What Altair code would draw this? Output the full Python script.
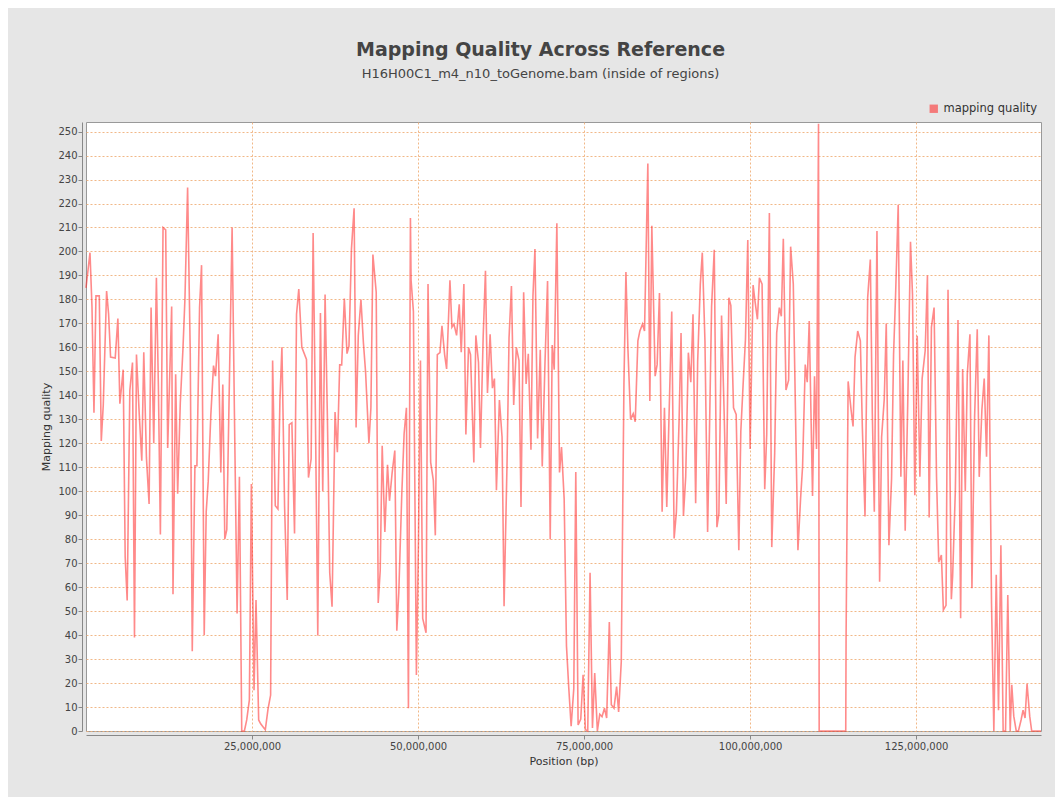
import altair as alt
import pandas as pd

TITLE = "Mapping Quality Across Reference"
SUBTITLE = "H16H00C1_m4_n10_toGenome.bam (inside of regions)"
SERIES = "mapping quality"

# Window positions (Mbp) and mean mapping quality
POS_MB = [
    0.0, 0.6, 0.9, 1.2, 1.5, 2.0, 2.3, 2.6, 3.1, 3.4, 3.7, 4.4, 4.8, 5.1, 5.6, 5.9, 6.2, 6.6, 7.0, 7.3,
    7.6, 8.0, 8.4, 8.7, 9.1, 9.5, 9.8, 10.2, 10.6, 10.9, 11.2, 11.6, 12.0, 12.3, 12.9, 13.1, 13.5, 13.8, 14.2, 14.6,
    14.9, 15.3, 15.7, 16.0, 16.4, 16.7, 17.1, 17.4, 17.8, 18.1, 18.4, 18.8, 19.2, 19.5, 19.9, 20.3, 20.6, 20.9,
    21.2, 21.6, 22.0, 22.35, 22.75, 23.1, 23.45, 23.85, 24.2, 24.6, 24.9, 25.3, 25.6, 26.0, 26.3, 26.7, 27.0, 27.4,
    27.8, 28.1, 28.5, 28.9, 29.2, 29.5, 29.9, 30.3, 30.6, 31.0, 31.4, 31.7, 32.04, 32.5, 33.2, 33.5, 33.9, 34.2,
    34.55, 34.9, 35.3, 35.65, 36.0, 36.35, 36.7, 37.05, 37.5, 37.85, 38.2, 38.5, 38.9, 39.3, 39.6, 39.97, 40.37,
    40.67, 41.0, 41.4,
    41.77, 42.1, 42.6, 42.9, 43.2, 43.7, 44.0, 44.3, 44.6, 45.0, 45.4, 45.7, 46.1, 46.5, 46.8, 47.1, 47.55, 47.9,
    48.25, 48.55, 48.85, 48.95, 49.3, 49.75, 50.06, 50.36, 50.7, 51.2, 51.5, 51.9, 52.3, 52.6, 52.9, 53.3, 53.6,
    54.0, 54.3, 54.8, 55.1, 55.4, 55.8, 56.2, 56.5, 56.9, 57.2, 57.6, 57.9, 58.4, 58.7, 59.1, 59.4, 59.8, 60.15,
    60.45, 60.85, 61.2, 61.5, 61.8,
    62.25, 62.65, 62.95, 63.4, 63.7, 64.06, 64.4, 64.8, 65.2, 65.5, 65.9, 66.27, 66.6, 67.0, 67.3, 67.6, 68.0,
    68.4, 68.7, 69.1, 69.5, 69.9, 70.2, 70.5, 70.9, 71.3, 71.6, 72.0, 72.35, 72.7, 73.05, 73.45, 73.75, 74.1,
    74.5, 74.85, 75.2, 75.55, 75.9, 76.26, 76.6, 77.0, 77.36, 77.7, 78.07, 78.4, 78.8, 79.1, 79.5, 79.9, 80.2,
    80.6, 81.0, 81.3, 81.6, 82.0, 82.4,
    82.7, 83.1, 83.4, 83.8, 84.1, 84.6, 84.9, 85.2, 85.7, 86.0, 86.35, 86.75, 87.1, 87.45, 87.8, 88.2, 88.56,
    88.9, 89.3, 89.6, 89.96, 90.3, 90.7, 91.07, 91.4, 91.8, 92.1, 92.5, 92.8, 93.2, 93.6, 93.9, 94.2, 94.6, 95.0,
    95.3, 95.7, 96.1, 96.4, 96.8, 97.1, 97.5, 97.9, 98.3, 98.6, 98.95, 99.3, 99.65, 100.0, 100.45, 100.75, 101.1,
    101.4, 101.8, 102.2, 102.5, 102.9,
    103.26, 103.7, 104.0, 104.4, 104.7, 105.0, 105.4, 105.8, 106.1, 106.5, 106.9, 107.2, 107.6, 107.9, 108.3,
    108.6, 108.9, 109.4, 109.7, 110.0, 110.3, 110.4, 110.8, 111.2, 111.5, 111.9, 112.2, 112.6, 113.0, 113.3,
    113.7, 114.0, 114.4, 114.45, 114.76, 115.2, 115.5, 115.8, 116.2, 116.6, 116.9, 117.3, 117.7, 118.1, 118.4,
    118.7, 119.1, 119.5, 119.8, 120.2, 120.5, 120.9, 121.3, 121.6, 121.9, 122.3, 122.7, 123.0, 123.35,
    123.75, 124.15, 124.45, 124.8, 125.16, 125.56, 125.9, 126.36, 126.7, 126.96, 127.3, 127.7, 128.07, 128.4,
    128.8, 129.1, 129.5, 129.8, 130.3, 130.5, 130.9, 131.3, 131.7, 132.0, 132.4, 132.7, 133.1, 133.4, 133.8,
    134.2, 134.5, 134.9, 135.25, 135.6, 135.95, 136.35, 136.7, 137.06, 137.4, 137.76, 138.1, 138.46, 138.8,
    139.16, 139.4, 139.7, 140.07, 140.4, 140.8, 141.1, 141.4, 141.7, 142.1, 142.4, 142.8, 143.1, 143.8,
]

MAPQ = [
    184.8, 199.5, 177, 132.7, 181.5, 181.5, 121, 136, 183.5, 174, 156, 155.6, 172, 136.5, 150.7, 72.6, 54.4, 142, 153.7, 39,
    157, 133, 112.7, 158, 114, 94.7, 176.6, 120, 189, 143.8, 82, 210, 209, 118, 177, 57, 148.8, 99, 137, 159.4,
    180.4, 226.7, 157, 33.3, 110.6, 110.6, 176.6, 194.3, 40, 91.4, 104, 132, 152.4, 148, 165.5, 107.8, 144.5, 80,
    84, 147, 210, 132.4, 49, 106, 0, 0, 4.6, 13, 103, 17, 54.6, 4.6, 3, 1.6, 0.5, 9,
    15, 154.5, 94, 92.6, 138, 160, 94, 54.6, 127.8, 128.6, 82.4, 173.8, 184.3, 160, 155, 105.7, 113.5, 207.7,
    130, 39.8, 174.3, 100, 182, 130.7, 66, 51.8, 133, 116.3, 152.7, 152.7, 180.4, 157.4, 160.5, 201, 218,
    126.6, 165, 180,
    162, 149.6, 120, 134.8, 198.7, 183, 53.4, 66.8, 119, 83, 111, 96, 107.8, 117, 41.8, 57.8, 98.8, 124,
    134.8, 9.5, 214, 188, 175, 23.4, 79, 154.5, 47, 41, 186.4, 112, 104.5, 81.6, 157, 157.8, 169,
    157, 151, 188, 168.4, 169.7, 165, 178, 158, 186.4, 123.7, 160, 157, 112, 165, 153.7, 118, 164, 192,
    141, 165.5, 143, 147, 100.4,
    138, 122.5, 52, 112, 164, 185.6, 136, 160, 154.5, 93.4, 183, 144.7, 157.3, 117.3, 181.5, 201, 122,
    159, 110.3, 152.4, 187.7, 80, 161, 150.7, 211.8, 107.8, 118.4, 96.7, 35.4, 17.7, 2, 17.7, 108, 2.5,
    5, 23.4, 0.5, 0, 66, 1.3, 24.2, 0, 7, 6, 9.5, 5.4, 45.5, 11, 9.5, 18.5, 7.9,
    29, 144.7, 191.4, 159.4, 130, 132.4,
    129, 162.7, 166.8, 169.7, 166.8, 236.7, 137.6, 210.7, 148, 152.8, 182.7, 91.4, 134.8, 93.4, 132.4, 175, 80.3,
    91.4, 129, 166, 89.8, 106, 157.8, 145.5, 173.8, 95, 154, 186.4, 199.5, 162.7, 83, 128.3, 177, 200.7, 85,
    90.6, 173.3, 131.6, 94.7, 180.7, 177.4, 134.8, 132, 75.4, 125, 144.7, 163.5, 204.8, 117.6, 186, 179, 171.7,
    189, 186.4, 100.8, 123.8, 216,
    76.7, 116, 166, 176.6, 173, 205.3, 142.2, 146.3, 202, 186.4, 121.7, 75.4, 97, 110.3, 152.8,
    145.5, 171, 98, 148, 117.6, 253.3, 0, 0, 0, 0, 0, 0, 0, 0, 0,
    0, 0, 0, 39, 145.8, 134, 127, 156, 166.8, 162.7, 126.6, 89.5, 180.7, 196.6, 132.4,
    91.4, 208.5, 62.3, 122.5, 138.6, 170, 77.5, 105.3, 157, 181.5, 219.5, 106, 154.5, 83.5,
    139, 204, 182.3, 98.3, 164.8, 106, 147, 158.6, 190, 89, 168.4, 176.6, 105.8, 70.4,
    73.4, 50.5, 52.4, 184, 55, 65, 100, 171.4, 47, 151, 100, 148.8, 165.5, 59.5, 130.7,
    167.6, 106, 134, 147, 114.4, 165, 53.2, 0, 65.2, 8.7, 77.5, 0, 0, 56.7,
    0, 19.3, 6.2, 0, 0, 4.6, 8.7, 5.4, 19.7, 6.2, 0, 0, 0, 0,
]

X_TICKS = [25_000_000, 50_000_000, 75_000_000, 100_000_000, 125_000_000]
Y_TICKS = list(range(0, 251, 10))

df = pd.DataFrame({"pos_mb": POS_MB, "mapq": MAPQ})
df["series"] = SERIES

base = alt.Chart(df).transform_calculate(pos="datum.pos_mb * 1000000")

grid_color = "#f0b07a"

line = base.mark_line(strokeWidth=1.6, opacity=0.55, interpolate="linear").encode(
    x=alt.X(
        "pos:Q",
        title="Position (bp)",
        scale=alt.Scale(domain=[0, 143_800_000], nice=False, zero=False),
        axis=alt.Axis(values=X_TICKS, format=",d", labelFontSize=10, labelColor="#444444",
                      titleFontSize=11, titleFontWeight="normal", titleColor="#333333",
                      titlePadding=4, labelPadding=2, tickSize=4, offset=4,
                      domainColor="#888888", tickColor="#888888",
                      gridColor=grid_color, gridDash=[2, 2], gridOpacity=0.9),
    ),
    y=alt.Y(
        "mapq:Q",
        title="Mapping quality",
        scale=alt.Scale(domain=[0, 254], nice=False),
        axis=alt.Axis(values=Y_TICKS, labelFontSize=10, labelColor="#444444",
                      titleFontSize=11, titleFontWeight="normal", titleColor="#333333",
                      titlePadding=6, labelPadding=1, tickSize=4, offset=4,
                      domainColor="#888888", tickColor="#888888",
                      gridColor=grid_color, gridDash=[2, 2], gridOpacity=0.9),
    ),
    color=alt.Color(
        "series:N",
        scale=alt.Scale(domain=[SERIES], range=["#ff2a2a"]),
        legend=alt.Legend(title=None, orient="none", legendX=842, legendY=-19,
                          symbolType="square", symbolSize=70, symbolFillColor="#f47a7a",
                          symbolStrokeWidth=0, symbolOpacity=1,
                          labelFontSize=11.5, labelColor="#333333"),
    ),
)

chart = line.properties(
    width=955,
    height=609,
    title=alt.TitleParams(
        text=TITLE,
        subtitle=SUBTITLE,
        anchor="middle",
        dx=-23,
        fontSize=19,
        fontWeight="bold",
        color="#444444",
        subtitleFontSize=13,
        subtitleColor="#444444",
        subtitlePadding=8,
        offset=22,
        font="DejaVu Sans",
        subtitleFont="DejaVu Sans",
    ),
    autosize=alt.AutoSizeParams(type="none"),
    padding={"left": 78, "top": 114, "right": 14, "bottom": 66},
).configure(
    background="#e6e6e6",
    font="DejaVu Sans",
).configure_view(
    fill="#ffffff",
    stroke="#999999",
    strokeWidth=1,
)

chart.save("out.html", embed_options={"renderer": "svg", "actions": False})
